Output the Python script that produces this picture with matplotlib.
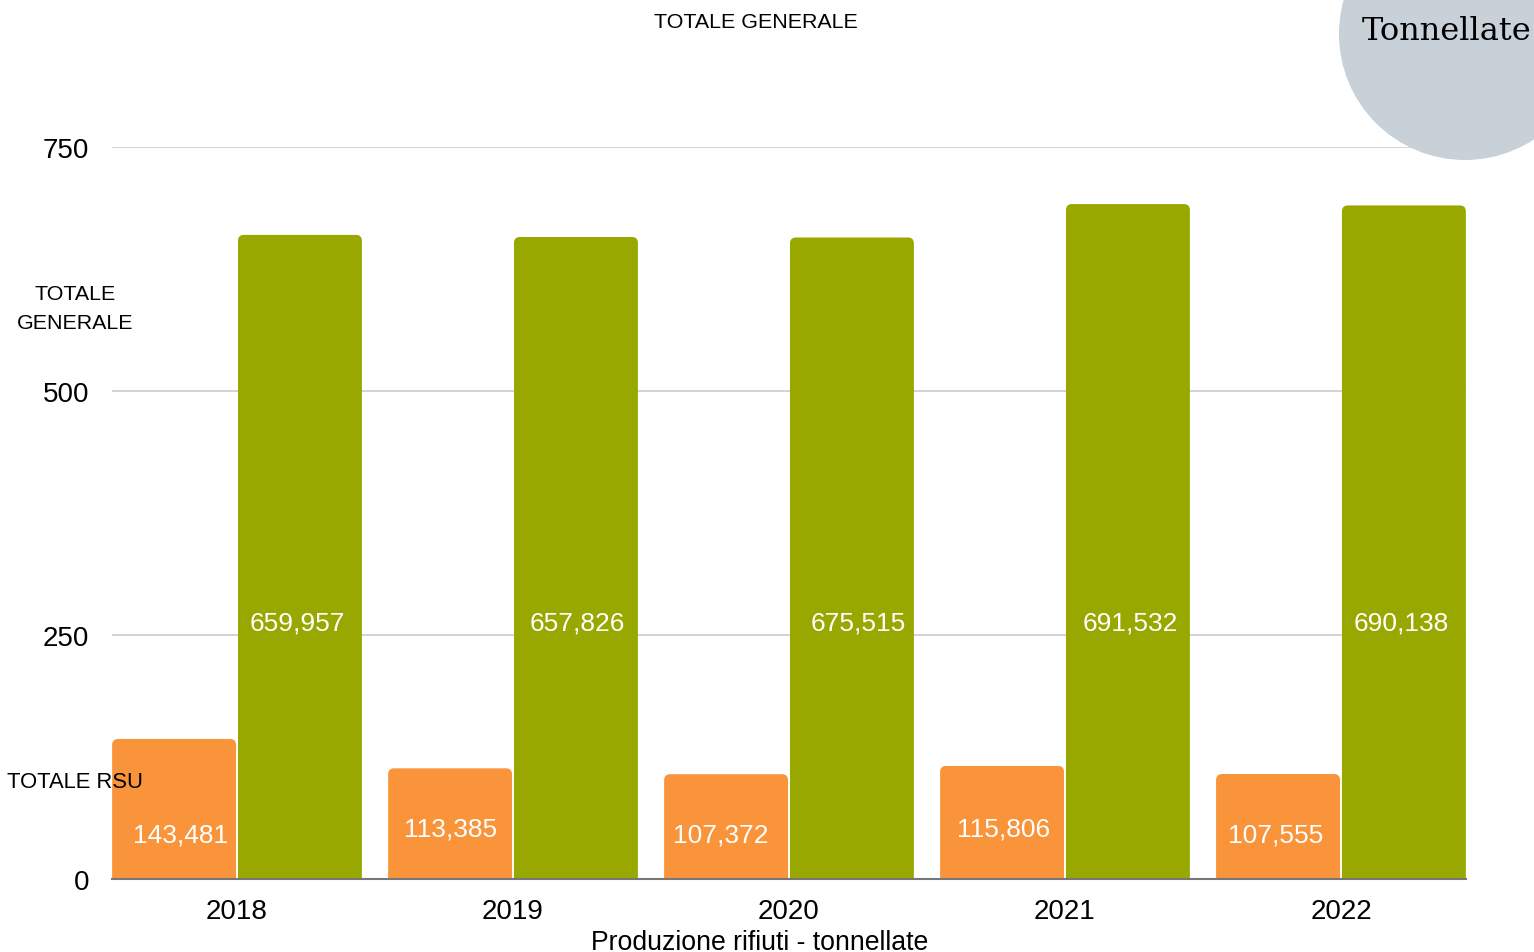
import matplotlib
matplotlib.use("Agg")
import matplotlib.pyplot as plt
from matplotlib.patches import FancyBboxPatch, Circle
import numpy as np

years = ["2018", "2019", "2020", "2021", "2022"]
rsu = [143.481, 113.385, 107.372, 115.806, 107.555]
# bar heights as drawn in the picture (the 2020 bar is drawn at ~657 despite its label)
generale = [659.957, 657.826, 657.3, 691.532, 690.138]
rsu_labels = ["143,481", "113,385", "107,372", "115,806", "107,555"]
gen_labels = ["659,957", "657,826", "675,515", "691,532", "690,138"]
yticks = [0, 250, 500, 750]

ORANGE = "#f9943b"
GREEN = "#99a800"

plt.rcParams['font.family'] = ['Liberation Sans', 'DejaVu Sans']

fig = plt.figure(figsize=(15.34, 9.53), dpi=100)
W, H = 1534, 953
ax = fig.add_axes([112 / W, 1 - 880 / H, (1466 - 112) / W, (880 - 148) / H])

ax.set_xlim(-0.453, 4.453)
ax.set_ylim(0, 750)

bw = 0.449
off = 0.228
x = np.arange(len(years))
xu = 1.0 / 276
yu = 750.0 / 732
rs = 6 * xu
aspect = yu / xu

def rbar(xc, h, color):
    p = FancyBboxPatch((xc - bw / 2, -20), bw, h + 20,
                       boxstyle=f"round,pad=0,rounding_size={rs}",
                       mutation_aspect=aspect, facecolor=color,
                       edgecolor="none", zorder=3)
    ax.add_patch(p)

for i in range(len(years)):
    rbar(x[i] - off, rsu[i], ORANGE)
    rbar(x[i] + off, generale[i], GREEN)

rsu_label_y = [46, 52, 46, 52, 46]
rsu_dx = [0.022, 0.0, -0.018, 0.007, -0.007]
gen_dx = [-0.011, 0.004, 0.022, 0.007, -0.011]
for i in range(len(years)):
    ax.text(x[i] - off + rsu_dx[i], rsu_label_y[i], rsu_labels[i], color="white",
            ha="center", va="center", fontsize=19, zorder=5)
    ax.text(x[i] + off + gen_dx[i], 263, gen_labels[i], color="white",
            ha="center", va="center", fontsize=19, zorder=5)

ax.set_yticks(yticks)
ax.set_yticklabels([str(v) for v in yticks], fontsize=20)
ax.set_xticks(x)
ax.set_xticklabels(years, fontsize=20)
ax.tick_params(axis="x", length=0, pad=14)
ax.tick_params(axis="y", length=0, pad=16.5)
ax.grid(axis="y", color="#cccccc", linewidth=1.2, zorder=0)
ax.set_axisbelow(True)
for s in ["top", "right", "left"]:
    ax.spines[s].set_visible(False)
ax.spines["bottom"].set_color("#777777")
ax.spines["bottom"].set_linewidth(1.5)
ax.spines["bottom"].set_zorder(4)

fig.text(760 / W, 1 - 943 / H, "Produzione rifiuti - tonnellate",
         ha="center", va="center", fontsize=19.2)
fig.text(756 / W, 1 - 22 / H, "TOTALE GENERALE", ha="center", va="center", fontsize=15.4)
fig.text(75 / W, 1 - 309 / H, "TOTALE\nGENERALE", ha="center", va="center",
         fontsize=15.4, linespacing=1.7)
fig.text(75 / W, 1 - 783 / H, "TOTALE RSU", ha="center", va="center", fontsize=15.8, zorder=10)

circ_ax = fig.add_axes([0, 0, 1, 1], facecolor="none")
circ_ax.set_xlim(0, W)
circ_ax.set_ylim(H, 0)
circ_ax.axis("off")
circ_ax.add_patch(Circle((1465, 35), 126, facecolor="#c8d0d8", edgecolor="none"))
circ_ax.text(1362, 31, "Tonnellate", family=["DejaVu Serif"], fontsize=23,
             ha="left", va="center", color="#000000")

fig.savefig("out.png", dpi=100)
